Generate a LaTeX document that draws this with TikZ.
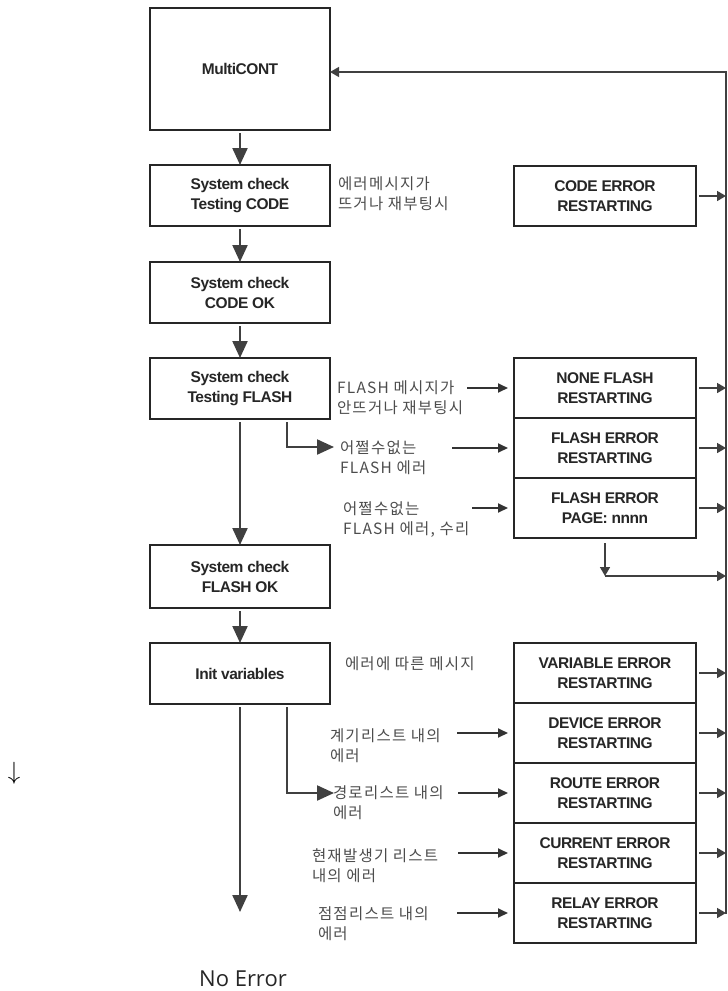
\documentclass[tikz,border=0pt]{standalone}
\usepackage{fontspec}
\usetikzlibrary{arrows.meta}
\usetikzlibrary{positioning}
\usetikzlibrary{calc}

\newfontfamily\boxfam[LetterSpace=-3]{Liberation Sans}
\newfontfamily\krfam[LetterSpace=8]{Noto Sans CJK KR}
\newfontfamily\endfam{Open Sans}

\begin{document}
\begin{tikzpicture}[x=1pt, y=-1pt,
  every node/.style={inner sep=0pt, outer sep=0pt},
  stepbox/.style={draw=black!85, line width=2.6pt, minimum width=180pt, minimum height=61pt, align=center, text=black!85, font=\boxfam\bfseries\fontsize{15.5}{20}\selectfont},
  errbox/.style={stepbox, minimum width=182pt, minimum height=60pt},
  remark/.style={anchor=west, align=left, text=black!70, font=\krfam\fontsize{15.5}{20}\selectfont},
  flow/.style={draw=black!75, line width=2.2pt, shorten <=3pt, -{Triangle[length=17pt,width=15pt]}},
  feed/.style={draw=black!80, line width=1.8pt, -{Triangle[length=10pt,width=9pt]}},
  back/.style={draw=black!75, line width=1.6pt, -{Triangle[length=9pt,width=10pt]}}]

        \useasboundingbox (0,0) rectangle (728,991);

        % Main flow on the left
        \node[stepbox, minimum height=122pt] (multi) at (240,69) {MultiCONT};
        \node[stepbox] (codetest) at (240,195.5) {System check\\Testing CODE};
        \node[stepbox] (codeok) at (240,292.5) {System check\\CODE OK};
        \node[stepbox] (flashtest) at (240,388.5) {System check\\Testing FLASH};
        \node[stepbox, minimum height=63pt] (flashok) at (240,576.5) {System check\\FLASH OK};
        \node[stepbox] (initvar) at (240,673.5) {Init variables};

        % Error boxes on the right, stacked without gaps
        \node[errbox] (codeerr) at (605,196) {CODE ERROR\\RESTARTING};
        \node[errbox] (noneflash) at (605,388) {NONE FLASH\\RESTARTING};
        \node[errbox, below=0pt of noneflash] (flasherr) {FLASH ERROR\\RESTARTING};
        \node[errbox, below=0pt of flasherr] (flashpage) {FLASH ERROR\\PAGE: nnnn};
        \node[errbox] (varerr) at (605,673) {VARIABLE ERROR\\RESTARTING};
        \node[errbox, below=0pt of varerr] (deverr) {DEVICE ERROR\\RESTARTING};
        \node[errbox, below=0pt of deverr] (routeerr) {ROUTE ERROR\\RESTARTING};
        \node[errbox, below=0pt of routeerr] (curerr) {CURRENT ERROR\\RESTARTING};
        \node[errbox, below=0pt of curerr] (relayerr) {RELAY ERROR\\RESTARTING};

        % Korean remarks between the columns
        \node[remark] (codenote) at (338,194) {에러메시지가\\뜨거나 재부팅시};
        \node[remark] (nonenote) at (337,398) {FLASH 메시지가\\안뜨거나 재부팅시};
        \node[remark] (flashnote) at (340,458) {어쩔수없는\\FLASH 에러};
        \node[remark] (pagenote) at (343,520) {어쩔수없는\\FLASH 에러, 수리};
        \node[remark] (varnote) at (345,664) {에러에 따른 메시지};
        \node[remark] (devnote) at (330,745.5) {계기리스트 내의\\에러};
        \node[remark] (routenote) at (333,803) {경로리스트 내의\\에러};
        \node[remark] (curnote) at (312,865.5) {현재발생기 리스트\\내의 에러};
        \node[remark] (relaynote) at (318,924) {점점리스트 내의\\에러};

        \node[font=\endfam\fontsize{22}{26}\selectfont, text=black!85, anchor=base] (noerr) at (243,986) {No Error};
        \node[font=\fontsize{23}{28}\selectfont] (stray) at (14,773) {$\downarrow$};

        % Helper points
        \coordinate (noerrtip) at (240,912);
        \coordinate (flashhit) at (334,447);
        \coordinate (routehit) at (334,793);
        \coordinate (pagebend) at (605,576);
        \coordinate (rtop) at (726,72);
        \coordinate (rbot) at (726,914);

        % Downward flow
        \foreach \a/\b in {multi/codetest, codetest/codeok, codeok/flashtest, flashtest/flashok, flashok/initvar} {
          \draw[flow] (\a) -- (\b);
        }
        \draw[flow] (initvar) -- (noerrtip);

        % Side branches
        \draw[flow] ([xshift=47pt]flashtest.south) |- (flashhit);
        \draw[flow] ([xshift=47pt]initvar.south) |- (routehit);

        % Arrows from the remarks into the error boxes
        \foreach \b/\len in {noneflash/41, flasherr/56, flashpage/36, deverr/51, routeerr/50, curerr/50, relayerr/51} {
          \draw[feed, shorten >=6pt] ([xshift={-(\len+6)*1pt}]\b.west) -- (\b.west);
        }

        % Everything goes back to MultiCONT
        \foreach \b in {codeerr, noneflash, flasherr, flashpage, varerr, deverr, routeerr, curerr, relayerr} {
          \draw[back, shorten <=3pt] (\b.east) -- (\b.east -| rtop);
        }
        \draw[back, shorten <=5pt] (flashpage.south) -- (pagebend);
        \draw[back] (pagebend) -- (pagebend -| rtop);
        \draw[back, line width=1.3pt] (rbot) -- (rtop) -- (rtop -| multi.east);

      \end{tikzpicture}
\end{document}
